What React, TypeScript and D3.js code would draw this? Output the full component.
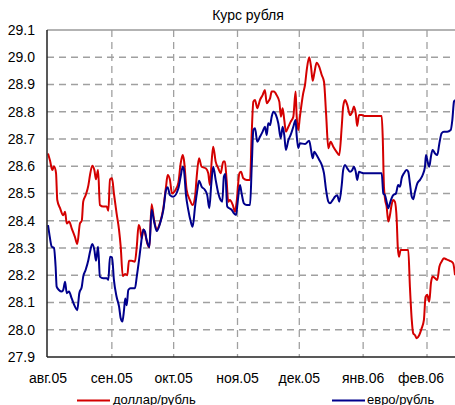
import * as d3 from "d3";
import React from "react";

// days since 1 Aug 2005
const usdDay = [
  0, 1, 2.1, 2.9, 3.9, 4.5, 5.8, 7.4, 8.3, 9.1,
  10.3, 11.5, 13.1, 14.2, 15.5, 16.4, 17.1, 18.3, 19.6, 20.4,
  21.5, 22.5, 23.3, 24.3, 25.2, 26.8, 28.5, 29.3, 30.1, 31.1,
  32, 33.3, 34.5, 35.3, 36.3, 37.4, 38.5, 39.3, 40.6, 42.2,
  43.1, 44, 44.7, 45.5, 46.3, 47.1, 48.2, 49.2, 50.3, 51.5,
  52.8, 54.4, 56, 57.3, 58.1, 59.2, 60.2, 61.7, 63.3, 64.4,
  65.4, 66, 67.3, 68.9, 70.2, 71.4, 72.2, 73.3, 74.6, 76.7,
  77.8, 78.6, 79.5, 80.2, 81.4, 82.7, 83.8, 85.1, 85.9, 86.7,
  87.5, 88.3, 89.7, 90.8, 91.6, 92.9, 93.7, 94.8, 96.5, 98.1,
  98.9, 99.7, 100.5, 101.6, 102.9, 104.2, 105.3, 106.2, 106.9, 107.8,
  108.6, 109.7, 111, 112.3, 113.1, 113.9, 114.7, 115.5, 116.7, 117.8,
  119.1, 120.2, 120.7, 121.5, 122.3, 123.9, 124.8, 125.6, 126.8, 127.7,
  128.5, 129.3, 130.4, 131.7, 132.9, 134, 135, 136.1, 137.2, 138.5,
  140.1, 141.4, 142.6, 143.3, 144.2, 145.3, 146.6, 147.7, 148.5, 149.4,
  150.1, 151, 152.3, 153.9, 162, 162.5, 163.1, 163.7, 164.4, 165.2,
  166, 166.8, 167.6, 168.4, 169.3, 169.8, 170.4, 171.2, 174.9, 175.7,
  176.6, 177.3, 178.2, 179, 180.2, 181.4, 182.5, 183.3, 184.1, 185.1,
  185.9, 186.7, 187.9, 189, 190, 191.1, 192.2, 193.5, 195.1, 196.7,
  197.6,
];
const usdRate = [
  28.647, 28.62, 28.586, 28.6, 28.575, 28.476, 28.447, 28.42, 28.433, 28.39,
  28.397, 28.372, 28.34, 28.315, 28.39, 28.4, 28.47, 28.494, 28.53, 28.568,
  28.602, 28.586, 28.552, 28.586, 28.458, 28.452, 28.452, 28.437, 28.552, 28.556,
  28.5, 28.427, 28.366, 28.305, 28.197, 28.205, 28.2, 28.253, 28.253, 28.25,
  28.305, 28.384, 28.372, 28.335, 28.368, 28.354, 28.317, 28.303, 28.461, 28.403,
  28.368, 28.393, 28.446, 28.525, 28.568, 28.55, 28.5, 28.51, 28.54, 28.61,
  28.641, 28.623, 28.513, 28.476, 28.458, 28.488, 28.562, 28.629, 28.598, 28.592,
  28.574, 28.531, 28.623, 28.672, 28.617, 28.592, 28.574, 28.617, 28.617, 28.55,
  28.47, 28.476, 28.458, 28.433, 28.47, 28.574, 28.58, 28.556, 28.55, 28.55,
  28.721, 28.837, 28.843, 28.813, 28.843, 28.861, 28.88, 28.831, 28.837, 28.849,
  28.874, 28.874, 28.861, 28.837, 28.782, 28.813, 28.77, 28.727, 28.745, 28.763,
  28.782, 28.874, 28.788, 28.733, 28.782, 28.868, 28.9, 28.953, 29.0, 28.965,
  28.914, 28.941, 28.98, 28.965, 28.935, 28.91, 28.794, 28.666, 28.69, 28.672,
  28.653, 28.641, 28.745, 28.819, 28.843, 28.825, 28.788, 28.8, 28.819, 28.794,
  28.748, 28.788, 28.788, 28.784, 28.784, 28.708, 28.525, 28.476, 28.452, 28.397,
  28.42, 28.458, 28.476, 28.47, 28.403, 28.305, 28.268, 28.293, 28.293, 28.158,
  28.036, 27.987, 27.98, 27.969, 27.98, 28.005, 28.036, 28.121, 28.128, 28.103,
  28.17, 28.195, 28.189, 28.183, 28.231, 28.25, 28.262, 28.258, 28.253, 28.244,
  28.2,
];

const eurDay = [
  0, 0.6, 1.8, 2.9, 3.7, 4.2, 5.3, 6.7, 7.4, 8.3,
  9.1, 10.2, 11.5, 13.1, 14.2, 15.2, 16.4, 17.1, 18.3, 19.6,
  20.4, 21.5, 22.5, 23.3, 24.3, 25.2, 26.8, 28.5, 29.3, 30.1,
  31.1, 32, 33.3, 34.5, 35.3, 36.1, 36.9, 37.5, 38.2, 39,
  40.1, 42.2, 43.1, 44.2, 45, 46.3, 47.1, 47.9, 49.2, 50.3,
  51.5, 52.8, 54.4, 56, 57.3, 58.1, 59.2, 60.8, 63.3, 64.4,
  65.4, 66, 67, 68.1, 69.3, 70.2, 71.4, 72.5, 73.3, 74.6,
  76.2, 77.3, 78.3, 79.3, 80.2, 81.4, 82.7, 83.8, 84.6, 85.4,
  86.1, 87, 88, 89.2, 90, 91.3, 92.1, 93.2, 94, 95.1,
  96.5, 98.1, 98.9, 99.7, 100.5, 101.6, 102.9, 104.2, 105.3, 106.2,
  106.9, 107.8, 108.6, 109.4, 110.7, 111.8, 113, 113.9, 114.7, 115.5,
  116.7, 117.8, 119.1, 120.2, 120.7, 121.5, 122.3, 124.8, 126.8, 127.7,
  128.5, 129.3, 130.4, 131.7, 132.9, 134, 135, 136.1, 136.9, 138.2,
  139.3, 140.4, 141.4, 142.6, 143.3, 144.2, 145.3, 146.6, 147.7, 148.5,
  149.4, 150.1, 151, 152.3, 153.9, 162, 162.8, 163.6, 164.4, 165.2,
  166, 166.8, 167.6, 168.9, 170, 170.9, 171.7, 172.8, 174.1, 174.9,
  175.7, 176.6, 177.3, 178.2, 179.3, 180.6, 181.9, 183, 183.5, 184.3,
  185.1, 185.9, 186.7, 187.9, 189, 190, 191.1, 192.2, 193.8, 195.5,
  196.3, 197.1, 197.6,
];
const eurRate = [
  28.384, 28.354, 28.305, 28.3, 28.231, 28.158, 28.146, 28.14, 28.146, 28.176,
  28.134, 28.14, 28.115, 28.085, 28.072, 28.134, 28.158, 28.195, 28.22, 28.256,
  28.286, 28.315, 28.293, 28.253, 28.305, 28.195, 28.189, 28.189, 28.183, 28.268,
  28.266, 28.183, 28.121, 28.085, 28.042, 28.03, 28.072, 28.115, 28.09, 28.146,
  28.152, 28.152, 28.195, 28.256, 28.305, 28.368, 28.36, 28.329, 28.303, 28.44,
  28.397, 28.362, 28.39, 28.44, 28.513, 28.523, 28.494, 28.488, 28.519, 28.562,
  28.598, 28.586, 28.494, 28.44, 28.397, 28.378, 28.452, 28.513, 28.547, 28.525,
  28.513, 28.494, 28.446, 28.537, 28.598, 28.55, 28.5, 28.476, 28.47, 28.562,
  28.572, 28.452, 28.446, 28.44, 28.43, 28.421, 28.47, 28.531, 28.5, 28.464,
  28.458, 28.458, 28.598, 28.733, 28.739, 28.69, 28.708, 28.727, 28.745, 28.715,
  28.758, 28.751, 28.782, 28.8, 28.788, 28.758, 28.703, 28.745, 28.715, 28.66,
  28.696, 28.715, 28.745, 28.77, 28.715, 28.666, 28.684, 28.682, 28.694, 28.66,
  28.629, 28.653, 28.641, 28.623, 28.605, 28.574, 28.513, 28.47, 28.464, 28.476,
  28.488, 28.494, 28.47, 28.531, 28.586, 28.605, 28.592, 28.58, 28.586, 28.598,
  28.58, 28.55, 28.58, 28.576, 28.574, 28.574, 28.5, 28.494, 28.47, 28.446,
  28.464, 28.482, 28.494, 28.5, 28.531, 28.525, 28.556, 28.574, 28.586, 28.58,
  28.537, 28.488, 28.479, 28.507, 28.537, 28.55, 28.568, 28.598, 28.641, 28.617,
  28.598, 28.635, 28.66, 28.647, 28.641, 28.684, 28.721, 28.727, 28.727, 28.733,
  28.77, 28.837, 28.843,
];

const monthStarts = ["2005-08-01", "2005-09-01", "2005-10-01", "2005-11-01", "2005-12-01", "2006-01-01", "2006-02-01"];
const monthLabels = ["авг.05", "сен.05", "окт.05", "ноя.05", "дек.05", "янв.06", "фев.06"];
const yTicks = [27.9, 28.0, 28.1, 28.2, 28.3, 28.4, 28.5, 28.6, 28.7, 28.8, 28.9, 29.0, 29.1];

const W = 455, H = 405;
const left = 47, top = 30, bottom = 357;
const font = "'Liberation Sans', Arial, sans-serif";

const parse = d3.timeParse("%Y-%m-%d");
const start = parse("2005-08-01")!;
const toDate = (day: number) => new Date(start.getTime() + day * 864e5);

export default function App() {
  const x = d3.scaleTime()
    .domain([start, parse("2006-02-01")!])
    .range([48, 427]);
  const y = d3.scaleLinear().domain([27.9, 29.1]).range([bottom, top]);

  const line = d3.line<[number, number]>()
    .x(d => x(toDate(d[0])))
    .y(d => y(d[1]))
    .curve(d3.curveMonotoneX);

  const usd = usdDay.map((d, i) => [d, usdRate[i]] as [number, number]);
  const eur = eurDay.map((d, i) => [d, eurRate[i]] as [number, number]);

  const months = monthStarts.map(s => parse(s)!);

  return (
    <div style={{ position: "fixed", left: 0, top: 0 }}>
      <svg width={W} height={H} style={{ display: "block", background: "#fff" }} fontFamily={font}>
        <defs>
          <clipPath id="plot">
            <rect x={left} y={top - 2} width={W} height={bottom - top + 4} />
          </clipPath>
        </defs>
        <text x={248} y={20} textAnchor="middle" fontSize={14}>Курс рубля</text>

        {yTicks.slice(1, -1).map(t => (
          <line key={t} x1={left} x2={W} y1={y(t)} y2={y(t)}
            stroke="#a0a0a0" strokeWidth={1.3} strokeDasharray="7,5" />
        ))}
        {months.slice(1).map((m, i) => (
          <line key={i} x1={x(m)} x2={x(m)} y1={top} y2={bottom}
            stroke="#a0a0a0" strokeWidth={1.3} strokeDasharray="7,5" />
        ))}
        <line x1={left} x2={W} y1={top} y2={top} stroke="#9a9a9a" strokeWidth={1.5} />

        <g clipPath="url(#plot)" fill="none" strokeWidth={2} strokeLinejoin="round">
          <path d={line(usd)!} stroke="#d40000" />
          <path d={line(eur)!} stroke="#00008c" />
        </g>

        <line x1={left} x2={left} y1={top} y2={bottom} stroke="#222" strokeWidth={1.5} />
        <line x1={left} x2={W} y1={bottom} y2={bottom} stroke="#222" strokeWidth={1.5} />

        {yTicks.map(t => (
          <text key={t} x={35} y={y(t)} dy="0.35em" textAnchor="end" fontSize={14}>
            {d3.format(".1f")(t)}
          </text>
        ))}
        {months.map((m, i) => (
          <text key={i} x={x(m) - (i === months.length - 1 ? 6 : 0)} y={383}
            textAnchor="middle" fontSize={14}>{monthLabels[i]}</text>
        ))}

        <line x1={77} x2={110} y1={400.5} y2={400.5} stroke="#d40000" strokeWidth={2} />
        <text x={113} y={403.5} fontSize={13}>доллар/рубль</text>
        <line x1={332} x2={365} y1={400.5} y2={400.5} stroke="#00008c" strokeWidth={2} />
        <text x={367} y={403.5} fontSize={13}>евро/рубль</text>
      </svg>
    </div>
  );
}
